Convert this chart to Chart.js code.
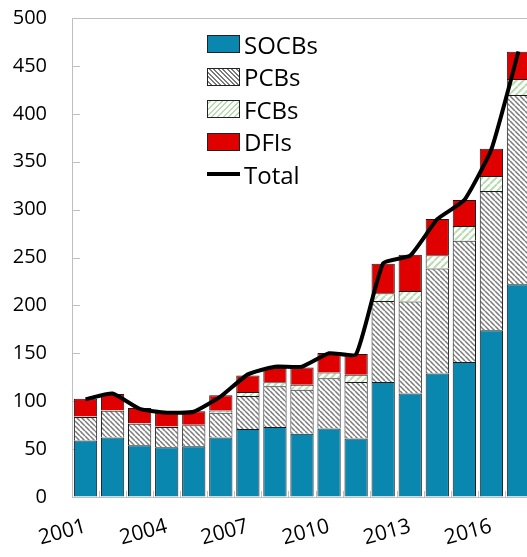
<!DOCTYPE html>
<html>
<head>
<meta charset="utf-8">
<script src="https://cdn.jsdelivr.net/npm/chart.js@4"></script>
<style>
    body { margin: 0; background: #fff; overflow: hidden; }
    #wrap { position: relative; width: 535px; height: 557px; overflow: hidden; }
    #BankChart { position: absolute; left: 0; top: -19px; }
    #legend { position: absolute; left: 207px; top: 28px; font-family: "Open Sans", sans-serif; font-size: 24px; color: #000; }
    .row { height: 32.5px; display: flex; align-items: center; }
    .box { width: 31px; height: 16px; border: 1px solid #222; margin-right: 4px; }
    .ln { width: 33px; height: 4px; background: #000; margin-right: 4px; }
</style>
</head>
<body>
<div id="wrap">
    <canvas id="BankChart" width="535" height="576"></canvas>
    <div id="legend">
        <div class="row"><span class="box" style="background:#0a87ae"></span>SOCBs</div>
        <div class="row"><span class="box" style="background:repeating-linear-gradient(45deg,#fff 0 1.8px,#7a7a7a 1.8px 3.2px)"></span>PCBs</div>
        <div class="row"><span class="box" style="background:repeating-linear-gradient(-45deg,#fff 0 2.5px,#b7dcb0 2.5px 4px)"></span>FCBs</div>
        <div class="row"><span class="box" style="background:#e00000"></span>DFIs</div>
        <div class="row"><span class="ln"></span>Total</div>
    </div>
</div>
<script>
const years = ['2001', '2002', '2003', '2004', '2005', '2006', '2007', '2008', '2009',
               '2010', '2011', '2012', '2013', '2014', '2015', '2016', '2017'];
const socbs = [59, 62, 54, 52, 53, 62, 71, 73, 66, 71.5, 61, 120, 108, 129, 141, 174, 222];
const pcbs = [24.5, 28, 22.5, 21, 22, 26, 34.5, 42.5, 46, 52.5, 59, 84.5, 96, 109.5, 126.5, 145.5, 197.5];
const fcbs = [0.5, 0.5, 0.5, 0.5, 0.5, 2.3, 4, 4.2, 5.2, 5.9, 7.7, 8.1, 11, 13.9, 15.3, 15.6, 16.9];
const dfis = [18.5, 17, 16, 14.5, 14, 15.8, 17.4, 15, 18, 20.3, 21.6, 31, 38, 37.7, 27.2, 28.3, 28.5];
const total = [102, 108, 92, 88, 89, 105, 128, 136, 136, 150, 149, 244, 252, 290, 310, 363, 465];
const y_ticks = [0, 50, 100, 150, 200, 250, 300, 350, 400, 450, 500];

function hatch(bg, fg, size, width, dir){
    // small tile with diagonal stripes, used as a canvas pattern
    let c = document.createElement('canvas');
    c.width = size;
    c.height = size;
    let g = c.getContext('2d');
    g.fillStyle = bg;
    g.fillRect(0, 0, size, size);
    g.strokeStyle = fg;
    g.lineWidth = width;
    g.beginPath();
    for (let k of [-size, 0, size]){
        if (dir == 'back'){
            g.moveTo(k, 0);
            g.lineTo(k + size, size);
        } else {
            g.moveTo(k, size);
            g.lineTo(k + size, 0);
        }
    }
    g.stroke();
    return g.createPattern(c, 'repeat');
}

const innerTicks = {
    id: 'innerTicks',
    beforeDatasetsDraw(chart){
        const ctx = chart.ctx;
        const y = chart.scales.y;
        const x = chart.scales.x;
        ctx.save();
        ctx.strokeStyle = '#bfbfbf';
        ctx.lineWidth = 1;
        ctx.beginPath();
        for (let v of y_ticks){
            let py = Math.round(y.getPixelForValue(v)) + 0.5;
            ctx.moveTo(x.left, py);
            ctx.lineTo(x.left + 8, py);
        }
        for (let i = 0; i < years.length; i++){
            let px = Math.round(x.getPixelForValue(i) + (x.getPixelForValue(1) - x.getPixelForValue(0)) / 2) + 0.5;
            ctx.moveTo(px, y.bottom);
            ctx.lineTo(px, y.bottom - 6);
        }
        ctx.stroke();
        ctx.restore();
    }
};

const ctx = document.getElementById('BankChart').getContext('2d');
const bar_base = {
    type: 'bar',
    stack: 'banks',
    borderColor: '#1a1a1a',
    borderWidth: 1,
    barPercentage: 0.86,
    categoryPercentage: 1.0,
    order: 1
};

const data = {
    labels: years,
    datasets: [
        Object.assign({}, bar_base, {label: 'SOCBs', data: socbs, backgroundColor: '#0a87ae'}),
        Object.assign({}, bar_base, {label: 'PCBs', data: pcbs, backgroundColor: hatch('#ffffff', '#7a7a7a', 5, 1.5, 'back')}),
        Object.assign({}, bar_base, {label: 'FCBs', data: fcbs, backgroundColor: hatch('#ffffff', '#b7dcb0', 7, 2, 'fwd')}),
        Object.assign({}, bar_base, {label: 'DFIs', data: dfis, backgroundColor: '#e00000'}),
        {
            type: 'line',
            label: 'Total',
            stack: 'total',
            data: total,
            borderColor: '#000000',
            borderWidth: 4,
            pointRadius: 0,
            fill: false,
            tension: 0.15,
            order: 0
        }
    ]
};

const font_family = '"Open Sans", sans-serif';
const chart = new Chart(ctx, {
    type: 'bar',
    data: data,
    plugins: [innerTicks],
    options: {
        responsive: false,
        animation: false,
        layout: {padding: {top: 0, right: 3, left: 0, bottom: 0}},
        plugins: {
            legend: {display: false},
            tooltip: {enabled: false}
        },
        scales: {
            x: {
                stacked: true,
                offset: true,
                afterFit: (scale) => { scale.height = 60; },
                border: {color: '#bfbfbf', width: 1},
                grid: {display: false},
                ticks: {
                    autoSkip: false,
                    minRotation: 15,
                    maxRotation: 15,
                    padding: 9,
                    color: '#000',
                    font: {family: font_family, size: 21},
                    callback: function(value, index){
                        return index % 3 == 0 ? years[index] : '';
                    }
                }
            },
            y: {
                stacked: true,
                min: 0,
                max: 500,
                afterFit: (scale) => { scale.width = 72; },
                border: {color: '#bfbfbf', width: 1},
                grid: {
                    drawTicks: false,
                    color: (c) => c.tick && c.tick.value == 500 ? '#bfbfbf' : 'rgba(0,0,0,0)'
                },
                ticks: {
                    stepSize: 50,
                    padding: 25,
                    color: '#000',
                    font: {family: font_family, size: 20}
                }
            }
        }
    }
});
</script>
</body>
</html>
